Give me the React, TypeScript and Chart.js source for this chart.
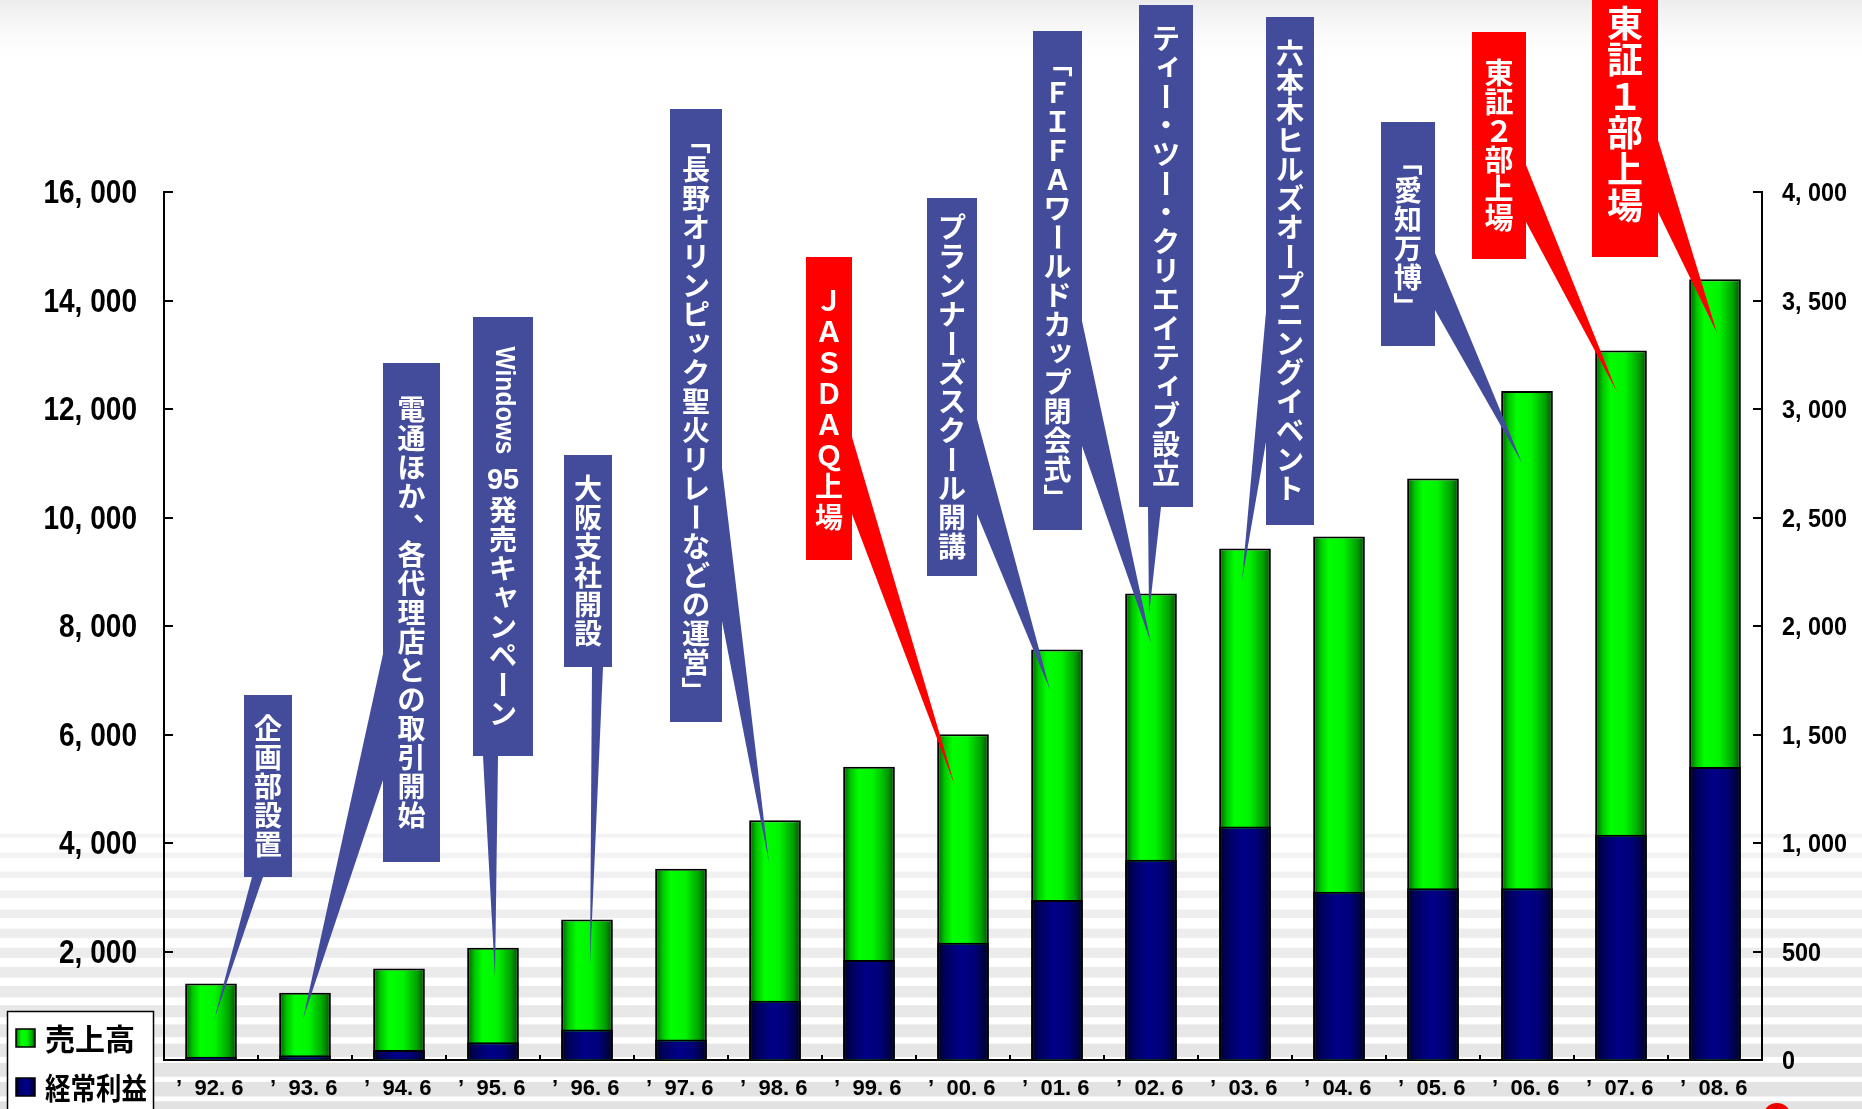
import { useEffect, useRef } from "react";
import { Chart, registerables } from "chart.js";

Chart.register(...registerables);

// ---------------- data ----------------
const categories = ["92.6", "93.6", "94.6", "95.6", "96.6", "97.6", "98.6", "99.6", "00.6", "01.6", "02.6", "03.6", "04.6", "05.6", "06.6", "07.6", "08.6"];
const salesName = "売上高";
const profitName = "経常利益";
const sales = [1410, 1240, 1685, 2070, 2590, 3525, 4420, 5405, 6005, 7565, 8600, 9430, 9650, 10720, 12330, 13080, 14390];
const profit = [15, 22, 46, 82, 141, 95, 273, 461, 540, 737, 923, 1076, 775, 791, 791, 1038, 1350];
const leftMax = 16000;
const leftStep = 2000;
const rightMax = 4000;
const rightStep = 500;

// events (text, category index they point to, sales-scale level of the pointer tip, kind)
const eventTexts = [
  "企画部設置",
  "電通ほか、各代理店との取引開始",
  "Windows 95発売キャンペーン",
  "大阪支社開設",
  "「長野オリンピック聖火リレーなどの運営」",
  "ＪＡＳＤＡＱ上場",
  "プランナーズスクール開講",
  "「ＦＩＦＡワールドカップ閉会式」",
  "ティー・ツー・クリエイティブ設立",
  "六本木ヒルズオープニングイベント",
  "「愛知万博」",
  "東証２部上場",
  "東証１部上場",
];
const eventCategory = [0, 1, 3, 4, 6, 8, 9, 10, 10, 11, 14, 15, 16];
const eventLevel = [737, 756, 1530, 1751, 3631, 5051, 6820, 7687, 8203, 8848, 11005, 12313, 13401];
const eventIsListing = [false, false, false, false, false, true, false, false, false, false, false, true, true];

// ---------------- layout / style (not data) ----------------
type Layout = { box: [number, number, number, number]; base: [number, number][]; dx: number; size: number; step: number };
const calloutLayout: Layout[] = [
  { box: [244, 695, 292, 877], base: [[252, 877], [263, 877]], dx: 3, size: 28, step: 29 },
  { box: [383, 363, 440, 862], base: [[383, 654], [383, 780]], dx: -2, size: 28, step: 29 },
  { box: [473, 317, 533, 756], base: [[483, 756], [498, 756]], dx: 2, size: 28, step: 29 },
  { box: [564, 455, 612, 667], base: [[592, 667], [603, 667]], dx: 3, size: 28, step: 29 },
  { box: [670, 109, 722, 722], base: [[722, 468], [722, 621]], dx: -6, size: 28, step: 29 },
  { box: [806, 257, 852, 560], base: [[852, 437], [852, 514]], dx: -8, size: 28, step: 31 },
  { box: [927, 198, 977, 576], base: [[977, 419], [977, 514]], dx: -7, size: 28, step: 29 },
  { box: [1033, 31, 1082, 530], base: [[1082, 321], [1082, 446]], dx: 0, size: 28, step: 29 },
  { box: [1139, 5, 1193, 507], base: [[1148, 507], [1161, 507]], dx: -2, size: 28, step: 29 },
  { box: [1266, 17, 1314, 525], base: [[1266, 312], [1266, 442]], dx: -3, size: 28, step: 29 },
  { box: [1381, 122, 1435, 346], base: [[1435, 253], [1435, 310]], dx: -5, size: 28, step: 29 },
  { box: [1472, 32, 1526, 259], base: [[1526, 165], [1526, 222]], dx: -4, size: 29, step: 29 },
  { box: [1592, -28, 1658, 257], base: [[1658, 140], [1658, 212]], dx: 2, size: 36, step: 36.5 },
];

const JP = "'Noto Sans CJK JP', 'Noto Sans CJK SC', sans-serif";
const LAT = "'Liberation Sans', Arial, 'DejaVu Sans', sans-serif";
const BOX_BLUE = "#434b9b";
const BOX_RED = "#ff0000";
const BAR_PCT = 0.55;
const GREEN_STOPS: [number, string][] = [
  [0, "#005400"], [0.14, "#00c400"], [0.3, "#00ff00"], [0.58, "#00f400"], [0.85, "#00a000"], [1, "#004c00"],
];
const BLUE_STOPS: [number, string][] = [
  [0, "#000026"], [0.16, "#00005e"], [0.45, "#000088"], [0.72, "#000078"], [1, "#00002a"],
];

function barGradient(c: any, stops: [number, string][]) {
  const chart = c.chart;
  const xs = chart.scales && chart.scales.x;
  if (c.type !== "data" || !chart.chartArea || !xs) return stops[2][1];
  const cw = (xs.right - xs.left) / categories.length;
  const w = cw * BAR_PCT;
  const cx = xs.getPixelForValue(c.dataIndex);
  const g = chart.ctx.createLinearGradient(cx - w / 2, 0, cx + w / 2, 0);
  stops.forEach(([o, col]) => g.addColorStop(o, col));
  return g;
}

// ---------------- vertical text ----------------
const ROTATE = "ー－〜～「」（）『』";
const SMALL = "ァィゥェォッャュョヮぁぃぅぇぉっゃゅょ";
const COMMAS = "、。";

type Cell = { kind: "char" | "rot" | "tcy" | "gap"; s: string; h: number; font?: string; max?: number };

function layoutCells(ctx: CanvasRenderingContext2D, text: string, size: number, step: number): Cell[] {
  const cells: Cell[] = [];
  let i = 0;
  while (i < text.length) {
    const ch = text[i];
    if (/[A-Za-z]/.test(ch)) {
      let j = i;
      while (j < text.length && /[A-Za-z]/.test(text[j])) j++;
      const s = text.slice(i, j);
      const font = `bold ${Math.round(size * 0.97)}px ${LAT}`;
      ctx.font = font;
      const w = Math.min(ctx.measureText(s).width, size * 3.85);
      cells.push({ kind: "rot", s, h: w + size * 0.1, font, max: w });
      i = j;
    } else if (/[0-9]/.test(ch)) {
      let j = i;
      while (j < text.length && /[0-9]/.test(text[j])) j++;
      cells.push({ kind: "tcy", s: text.slice(i, j), h: step, font: `bold ${Math.round(size * 1.05)}px ${LAT}` });
      i = j;
    } else if (ch === " ") {
      cells.push({ kind: "gap", s: "", h: size * 0.4 });
      i++;
    } else {
      cells.push({ kind: "char", s: ch, h: step });
      i++;
    }
  }
  return cells;
}

function drawVertical(ctx: CanvasRenderingContext2D, text: string, cx: number, top: number, bottom: number, size: number, step: number) {
  const cells = layoutCells(ctx, text, size, step);
  const total = cells.reduce((a, c) => a + c.h, 0);
  let y = (top + bottom) / 2 - total / 2;
  ctx.fillStyle = "#ffffff";
  ctx.textAlign = "center";
  ctx.textBaseline = "middle";
  for (const c of cells) {
    const cy = y + c.h / 2;
    if (c.kind === "char") {
      ctx.font = `bold ${size}px ${JP}`;
      if (ROTATE.includes(c.s)) {
        ctx.save();
        ctx.translate(cx, cy);
        ctx.rotate(Math.PI / 2);
        ctx.fillText(c.s, 0, 0);
        ctx.restore();
      } else if (SMALL.includes(c.s)) {
        ctx.fillText(c.s, cx + size * 0.1, cy - size * 0.1);
      } else if (COMMAS.includes(c.s)) {
        ctx.fillText(c.s, cx + size * 0.55, cy - size * 0.55);
      } else {
        ctx.fillText(c.s, cx, cy);
      }
    } else if (c.kind === "rot") {
      ctx.font = c.font!;
      ctx.save();
      ctx.translate(cx, cy);
      ctx.rotate(Math.PI / 2);
      ctx.fillText(c.s, 0, 0, c.max);
      ctx.restore();
    } else if (c.kind === "tcy") {
      ctx.font = c.font!;
      ctx.fillText(c.s, cx, cy, size * 1.15);
    }
    y += c.h;
  }
}

// ---------------- helpers ----------------
function fmt(v: number) {
  return v.toLocaleString("en-US").replace(",", ", ");
}

function line(ctx: CanvasRenderingContext2D, x1: number, y1: number, x2: number, y2: number) {
  ctx.beginPath();
  ctx.moveTo(x1, y1);
  ctx.lineTo(x2, y2);
  ctx.stroke();
}

const decorPlugin = {
  id: "decor",
  beforeDraw(chart: any) {
    const { ctx, width, height } = chart;
    ctx.save();
    ctx.fillStyle = "#ffffff";
    ctx.fillRect(0, 0, width, height);
    const g = ctx.createLinearGradient(0, 0, 0, 70);
    g.addColorStop(0, "#ececec");
    g.addColorStop(1, "rgba(255,255,255,0)");
    ctx.fillStyle = g;
    ctx.fillRect(0, 0, width, 70);
    // horizontal stripes on the lower part
    const start = 826;
    const period = 19.5;
    for (let c = 972.25 - period * 8; c < height + period; c += period) {
      if (c < start) continue;
      const t = Math.min(1, (c - start) / (height - start));
      const th = 2 + 13 * Math.pow(t, 0.6);
      const shade = Math.round(244 - 18 * t);
      ctx.fillStyle = `rgb(${shade},${shade},${shade})`;
      ctx.fillRect(0, c - th / 2, width, th);
    }
    ctx.restore();
  },
  afterDatasetsDraw(chart: any) {
    const { ctx, chartArea: ca } = chart;
    const xs = chart.scales.x;
    const ys = chart.scales.y;
    const y2 = chart.scales.y2;
    ctx.save();

    // inward tick marks
    ctx.strokeStyle = "#000";
    ctx.lineWidth = 2;
    ys.ticks.forEach((t: any) => {
      const py = Math.round(ys.getPixelForValue(t.value));
      line(ctx, ca.left, py, ca.left + 9, py);
    });
    y2.ticks.forEach((t: any) => {
      const py = Math.round(y2.getPixelForValue(t.value));
      line(ctx, ca.right - 9, py, ca.right, py);
    });
    const cw = (ca.right - ca.left) / categories.length;
    for (let k = 1; k < categories.length; k++) {
      const x = Math.round(ca.left + k * cw);
      line(ctx, x, ca.bottom, x, ca.bottom - 5);
    }

    // tick labels
    ctx.fillStyle = "#000";
    ctx.textBaseline = "middle";
    ctx.font = `bold 33px ${LAT}`;
    ctx.textAlign = "right";
    ys.ticks.forEach((t: any) => {
      if (t.value === 0) return;
      const s = fmt(t.value);
      const w = ctx.measureText(s).width;
      ctx.fillText(s, ca.left - 27, ys.getPixelForValue(t.value) + 2, w * 0.85);
    });
    ctx.font = `bold 26px ${LAT}`;
    ctx.textAlign = "left";
    y2.ticks.forEach((t: any) => {
      const s = fmt(t.value);
      const w = ctx.measureText(s).width;
      ctx.fillText(s, ca.right + 20, y2.getPixelForValue(t.value) + 2, w * 0.9);
    });
    ctx.font = `bold 22px ${LAT}`;
    ctx.textAlign = "center";
    categories.forEach((lab, i) => {
      const cx = xs.getPixelForValue(i);
      ctx.fillText(lab.replace(".", ". "), cx + 8, 1089);
      ctx.fillText("’", cx - 32, 1089);
    });

    // callouts
    eventTexts.forEach((text, i) => {
      const L = calloutLayout[i];
      const color = eventIsListing[i] ? BOX_RED : BOX_BLUE;
      const tx = xs.getPixelForValue(eventCategory[i]) + L.dx;
      const ty = ys.getPixelForValue(eventLevel[i]);
      ctx.fillStyle = color;
      ctx.beginPath();
      ctx.moveTo(L.base[0][0], L.base[0][1]);
      ctx.lineTo(tx, ty);
      ctx.lineTo(L.base[1][0], L.base[1][1]);
      ctx.closePath();
      ctx.fill();
      const [x0, by0, x1, by1] = L.box;
      ctx.fillRect(x0, by0, x1 - x0, by1 - by0);
      drawVertical(ctx, text, (x0 + x1) / 2, by0, by1, L.size, L.step);
    });

    // legend
    ctx.fillStyle = "#ffffff";
    ctx.fillRect(7, 1011, 146, 110);
    ctx.strokeStyle = "#000";
    ctx.lineWidth = 1.5;
    ctx.strokeRect(7.5, 1011.5, 146, 110);
    const items = [
      { name: chart.data.datasets[1].label, stops: GREEN_STOPS, y: 1029 },
      { name: chart.data.datasets[0].label, stops: BLUE_STOPS, y: 1078 },
    ];
    items.forEach((it) => {
      const g = ctx.createLinearGradient(16, 0, 35, 0);
      it.stops.forEach(([o, col]) => g.addColorStop(o, col));
      ctx.fillStyle = g;
      ctx.fillRect(16, it.y, 19, 18);
      ctx.lineWidth = 1.5;
      ctx.strokeRect(16, it.y, 19, 18);
      ctx.fillStyle = "#000";
      ctx.font = `bold 30px ${JP}`;
      ctx.textAlign = "left";
      ctx.textBaseline = "middle";
      ctx.fillText(it.name, 45, it.y + 10, 102);
    });

    // small red mark at bottom right
    ctx.fillStyle = "#ee0000";
    ctx.beginPath();
    ctx.arc(1777, 1117, 14, 0, Math.PI * 2);
    ctx.fill();

    ctx.restore();
  },
};

export default function App() {
  const ref = useRef<HTMLCanvasElement>(null);
  useEffect(() => {
    const canvas = ref.current;
    if (!canvas) return;
    const border = { display: true, color: "#000", width: 2 };
    const grid = { drawOnChartArea: false, drawTicks: false, display: true, color: "rgba(0,0,0,0)" };
    const chart = new Chart(canvas, {
      type: "bar",
      data: {
        labels: categories,
        datasets: [
          {
            label: profitName,
            data: profit,
            yAxisID: "y2",
            order: 0,
            backgroundColor: (c: any) => barGradient(c, BLUE_STOPS),
            borderColor: "#000",
            borderWidth: 2,
            borderSkipped: "start",
            barPercentage: BAR_PCT,
            categoryPercentage: 1,
            grouped: false,
          } as any,
          {
            label: salesName,
            data: sales,
            yAxisID: "y",
            order: 1,
            backgroundColor: (c: any) => barGradient(c, GREEN_STOPS),
            borderColor: "#000",
            borderWidth: 2,
            borderSkipped: "start",
            barPercentage: BAR_PCT,
            categoryPercentage: 1,
            grouped: false,
          } as any,
        ],
      },
      options: {
        responsive: false,
        animation: false,
        devicePixelRatio: 1,
        layout: { padding: { top: 192, left: 0, right: 0, bottom: 0 } },
        plugins: { legend: { display: false }, tooltip: { enabled: false } },
        scales: {
          x: {
            grid,
            border,
            ticks: { display: false },
            afterFit: (s: any) => {
              s.height = 49;
            },
          },
          y: {
            position: "left",
            min: 0,
            max: leftMax,
            ticks: { display: false, stepSize: leftStep },
            grid,
            border,
            afterFit: (s: any) => {
              s.width = 164;
            },
          },
          y2: {
            position: "right",
            min: 0,
            max: rightMax,
            ticks: { display: false, stepSize: rightStep },
            grid,
            border,
            afterFit: (s: any) => {
              s.width = 100;
            },
          },
        },
      } as any,
      plugins: [decorPlugin],
    });
    return () => chart.destroy();
  }, []);
  return (
    <div style={{ position: "fixed", left: 0, top: 0, width: 1862, height: 1109, overflow: "hidden" }}>
      <canvas ref={ref} width={1862} height={1109} style={{ display: "block", width: 1862, height: 1109 }} />
    </div>
  );
}
